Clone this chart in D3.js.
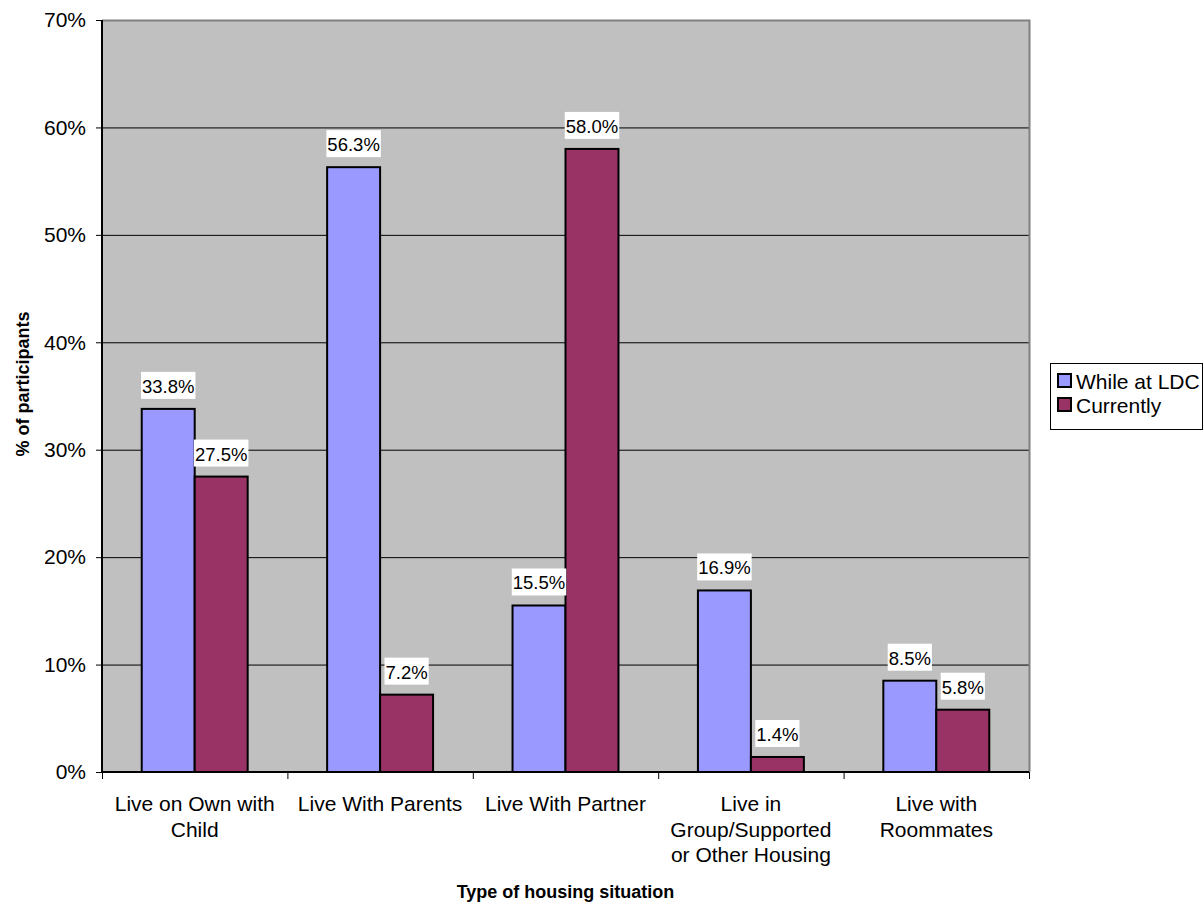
<!DOCTYPE html>
<html><head><meta charset="utf-8">
<script src="https://cdn.jsdelivr.net/npm/d3@7"></script>
<style>body{margin:0;background:#fff;}text{font-family:Arial,"Liberation Sans",sans-serif;}</style>
</head><body>
<svg id="chart" width="1204" height="905"></svg>
<script>
const categories = ["Live on Own with Child","Live With Parents","Live With Partner","Live in Group/Supported or Other Housing","Live with Roommates"];
const categoryLines = [["Live on Own with","Child"],["Live With Parents"],["Live With Partner"],["Live in","Group/Supported","or Other Housing"],["Live with","Roommates"]];
const seriesNames = ["While at LDC","Currently"];
const whileAtLDC = [33.8,56.3,15.5,16.9,8.5];
const currently = [27.5,7.2,58.0,1.4,5.8];
const colors = ["#9999ff","#993366"];
const yTicks = [0,10,20,30,40,50,60,70];

const svg = d3.select("#chart");
const m = {left:102, right:1029, top:20, bottom:772};
const x = d3.scaleBand().domain(categories).range([m.left,m.right]).padding(0);
const x1 = d3.scaleBand().domain(seriesNames).range([0,x.bandwidth()]).paddingInner(0).paddingOuter(0.75);
const y = d3.scaleLinear().domain([0,70]).range([m.bottom,m.top]);

svg.append("rect").attr("x",m.left).attr("y",m.top).attr("width",m.right-m.left).attr("height",m.bottom-m.top).attr("fill","#c0c0c0");
// gridlines
svg.append("g").selectAll("line").data(yTicks.filter(t=>t>0&&t<70)).join("line")
  .attr("x1",m.left).attr("x2",m.right).attr("y1",d=>y(d)+0.5).attr("y2",d=>y(d)+0.5).attr("stroke","#000").attr("stroke-width",1);
// top/right border
svg.append("path").attr("d",`M${m.left},${m.top+0.5}H${m.right+0.5}V${m.bottom}`).attr("fill","none").attr("stroke","#808080").attr("stroke-width",2);

const data = categories.map((c,i)=>({c, vals:[whileAtLDC[i],currently[i]]}));
const g = svg.append("g").selectAll("g").data(data).join("g").attr("transform",d=>`translate(${x(d.c)},0)`);
g.selectAll("rect").data(d=>d.vals.map((v,j)=>({v,s:seriesNames[j],j}))).join("rect")
  .attr("x",d=>x1(d.s)).attr("y",d=>y(d.v)).attr("width",x1.bandwidth()).attr("height",d=>m.bottom-y(d.v))
  .attr("fill",d=>colors[d.j]).attr("stroke","#000").attr("stroke-width",2);

// data labels
const lab = g.selectAll("g.lab").data(d=>d.vals.map((v,j)=>({v,s:seriesNames[j],j}))).join("g").attr("class","lab");
lab.each(function(d){
  const gg = d3.select(this);
  const cx = x1(d.s)+x1.bandwidth()/2;
  const t = gg.append("text").attr("x",cx).attr("y",y(d.v)-16).attr("text-anchor","middle").attr("font-size",18.5).text(d.v.toFixed(1)+"%");
  const bb = t.node().getBBox();
  gg.insert("rect","text").attr("x",bb.x-1).attr("y",y(d.v)-37).attr("width",bb.width+2).attr("height",27).attr("fill","#fff");
});

// y axis
const ya = svg.append("g").attr("transform",`translate(${m.left},0)`)
  .call(d3.axisLeft(y).tickValues(yTicks).tickFormat(d=>d+"%").tickSize(6).tickPadding(10));
ya.select(".domain").attr("stroke","#000").attr("stroke-width",2).attr("d",`M0,${m.top}V${m.bottom}`);
ya.selectAll(".tick line").attr("stroke","#000");
ya.selectAll(".tick text").attr("font-size",21).attr("font-family","Arial,'Liberation Sans',sans-serif").attr("fill","#000");

// x axis
const xa = svg.append("g").attr("transform",`translate(0,${m.bottom})`);
xa.append("line").attr("x1",m.left).attr("x2",m.right).attr("y1",0).attr("y2",0).attr("stroke","#000").attr("stroke-width",2);
xa.selectAll("line.t").data(categories.map(c=>x(c)).concat([m.right])).join("line").attr("class","t")
  .attr("x1",d=>d+0.5).attr("x2",d=>d+0.5).attr("y1",0).attr("y2",7).attr("stroke","#000");
categories.forEach((c,i)=>{
  const t = xa.append("text").attr("text-anchor","middle").attr("font-size",21).attr("fill","#000");
  categoryLines[i].forEach((ln,k)=>{
    t.append("tspan").attr("x",x(c)+x.bandwidth()/2).attr("y",39+k*25.5).text(ln);
  });
});

// axis titles
svg.append("text").attr("x",(m.left+m.right)/2).attr("y",898).attr("text-anchor","middle").attr("font-size",18).attr("font-weight","bold").text("Type of housing situation");
svg.append("text").attr("transform","translate(29,384) rotate(-90)").attr("text-anchor","middle").attr("font-size",18).attr("font-weight","bold").text("% of participants");

// legend
const lg = svg.append("g");
lg.append("rect").attr("x",1050.5).attr("y",363.5).attr("width",152).attr("height",66).attr("fill","#fff").attr("stroke","#000").attr("stroke-width",1);
seriesNames.forEach((s,i)=>{
  lg.append("rect").attr("x",1058).attr("y",374+i*24).attr("width",13).attr("height",13).attr("fill",colors[i]).attr("stroke","#000").attr("stroke-width",2);
  lg.append("text").attr("x",1076).attr("y",389+i*24).attr("font-size",21).text(s);
});
</script>
</body></html>
